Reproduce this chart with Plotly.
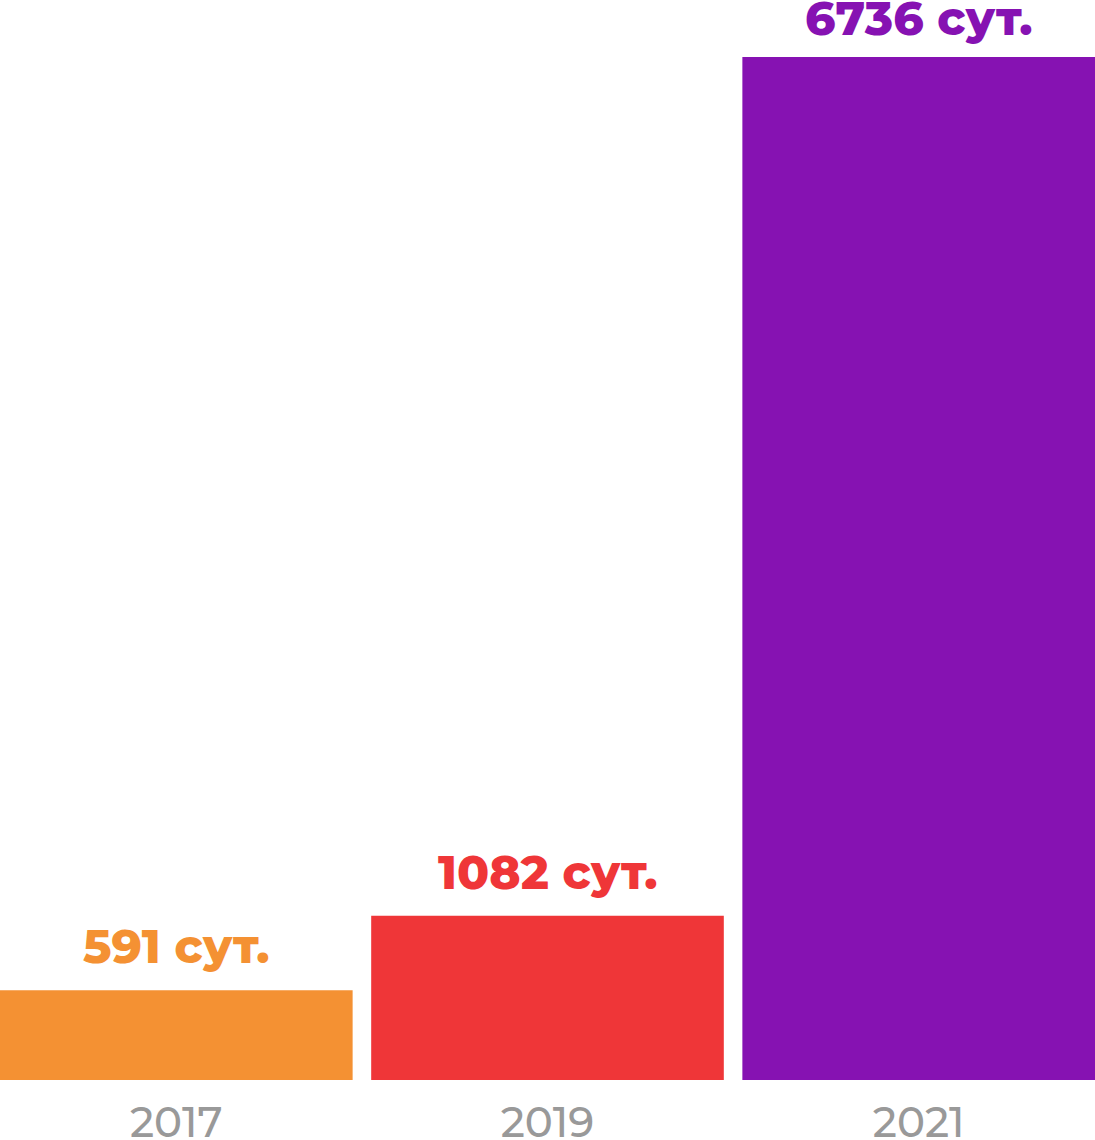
import plotly.graph_objects as go

years = [2017, 2019, 2021]
values = [591, 1082, 6736]
labels = ["591 сут.", "1082 сут.", "6736 сут."]
colors = ["#F49133", "#EF3638", "#8612B2"]
tick_labels = ["2017", "2019", "2021"]
label_shifts = [13, 13, 8]

fig = go.Figure()
fig.add_trace(go.Bar(
    x=years, y=values, width=1.9,
    marker=dict(color=colors, line=dict(width=0)),
    hoverinfo="skip",
))

for x, y, t, c, s in zip(years, values, labels, colors, label_shifts):
    fig.add_annotation(
        x=x, y=y, text=t, showarrow=False, yanchor="bottom", yshift=s,
        font=dict(family="Montserrat, Inter, sans-serif", size=47, color=c, weight=800),
    )

fig.update_layout(
    width=1095, height=1140,
    margin=dict(l=0, r=0, t=0, b=60, autoexpand=False),
    paper_bgcolor="white", plot_bgcolor="white",
    showlegend=False,
    xaxis=dict(
        range=[2017 - 0.95, 2021 + 0.95],
        tickvals=years, ticktext=tick_labels,
        showgrid=False, zeroline=False, showline=False,
        tickfont=dict(family="Montserrat, Inter, sans-serif", size=42, color="#999999", weight=500),
        ticks="", ticklen=0, ticklabelstandoff=14, automargin=False,
    ),
    yaxis=dict(range=[0, 7111], visible=False, showgrid=False, zeroline=False, automargin=False),
)

fig.write_html(
    "out.html",
    config={"displayModeBar": False},
    post_script="document.body.style.margin='0';document.body.style.overflow='hidden';",
)
